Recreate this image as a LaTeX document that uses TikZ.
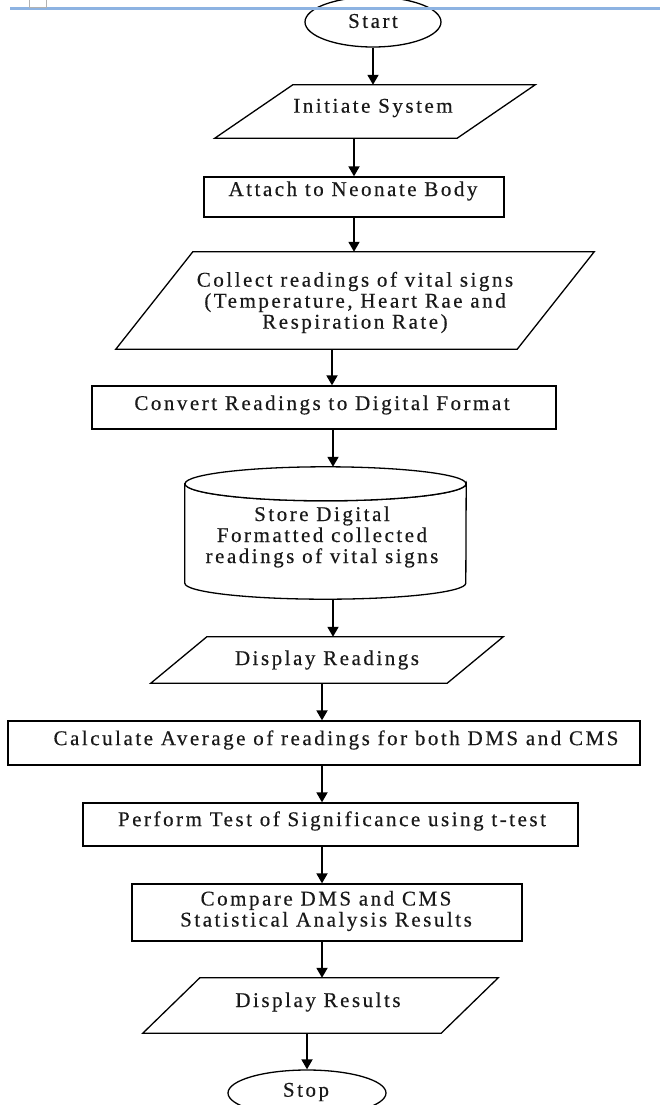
\documentclass[tikz,border=0pt]{standalone}
\usepackage{fontspec}
\setmainfont{Liberation Serif}[LetterSpace=12,FakeBold=0.4]
\usetikzlibrary{arrows.meta,shapes.geometric}
\definecolor{barblue}{RGB}{141,179,226}
\begin{document}
\begin{tikzpicture}[x=1pt,y=-1pt,
  shp/.style={draw=black, line width=1.3pt, fill=white},
  box/.style={shp, rectangle, inner sep=0pt},
  ell/.style={shp, ellipse, inner sep=0pt},
  ghost/.style={rectangle, draw=none, inner sep=0pt},
  txt/.style={inner sep=0pt, align=center, text=black!90, font=\fontsize{21}{21}\selectfont},
  arr/.style={line width=1.8pt, -{Triangle[width=11pt,length=10pt]}}]
\useasboundingbox (0,0) rectangle (660,1105);
\clip (0,0) rectangle (660,1105);
\fill[white] (0,0) rectangle (660,1105);

% Start
\node[ell, minimum width=136pt, minimum height=50pt] (start) at (373,22) {};
\node[txt] (tstart) at (373,21) {Start};
% top bar
\draw[barblue, line width=3pt] (10,9) -- (660,9);
\draw[gray!60, line width=1pt] (29,-1) -- (29,7.5) -- (46,7.5) -- (46,-1);

% Initiate System
\node[ghost, minimum width=320pt, minimum height=53pt] (init) at (375,111.5) {};
\draw[shp] (init.south west) -- ([xshift=78pt]init.north west) -- (init.north east) -- ([xshift=-78pt]init.south east) -- cycle;
\node[txt] (tinit) at (373,108) {Initiate System};

% Attach
\node[box, minimum width=300pt, minimum height=40pt] (att) at (354,197) {};
\node[txt] (tatt) at (353,191) {Attach to Neonate Body};

% Collect
\node[ghost, minimum width=478pt, minimum height=97pt] (col) at (355,300.5) {};
\draw[shp] (col.south west) -- ([xshift=77pt]col.north west) -- (col.north east) -- ([xshift=-77pt]col.south east) -- cycle;
\node[txt] (tcol) at (355,302.5) {Collect readings of vital signs\\(Temperature, Heart Rae and\\Respiration Rate)};

% Convert
\node[box, minimum width=464pt, minimum height=43pt] (conv) at (324,407.5) {};
\node[txt] (tconv) at (322,405) {Convert Readings to Digital Format};

% Store (cylinder)
\node[ghost, minimum width=281pt, minimum height=132pt] (store) at (325.5,533) {};
\draw[shp] ([yshift=-17pt]store.north west) -- ([yshift=16pt]store.south west)
  arc[start angle=180, end angle=360, x radius=140.5pt, y radius=16pt]
  -- ([yshift=-17pt]store.north east)
  arc[start angle=0, end angle=-180, x radius=140.5pt, y radius=17pt] -- cycle;
\draw[shp] ([yshift=-17pt]store.north) ellipse[x radius=140.5pt, y radius=17pt];
\node[txt] (tstore) at (322,537) {Store Digital\\Formatted collected\\readings of vital signs};

% Display Readings
\node[ghost, minimum width=352pt, minimum height=46pt] (dr) at (327,660) {};
\draw[shp] (dr.south west) -- ([xshift=56pt]dr.north west) -- (dr.north east) -- ([xshift=-56pt]dr.south east) -- cycle;
\node[txt] (tdr) at (327,660) {Display Readings};

% Calculate
\node[box, minimum width=632pt, minimum height=44pt] (calc) at (324,743) {};
\node[txt] (tcalc) at (336,740) {Calculate Average of readings for both DMS and CMS};

% Perform
\node[box, minimum width=495pt, minimum height=43pt] (perf) at (330.5,824.5) {};
\node[txt] (tperf) at (332,821) {Perform Test of Significance using t-test};

% Compare
\node[box, minimum width=390pt, minimum height=57pt] (comp) at (327,912.5) {};
\node[txt] (tcomp) at (326,911) {Compare DMS and CMS\\Statistical Analysis Results};

% Display Results
\node[ghost, minimum width=355pt, minimum height=55pt] (dr2) at (320.5,1005.5) {};
\draw[shp] (dr2.south west) -- ([xshift=57pt]dr2.north west) -- (dr2.north east) -- ([xshift=-57pt]dr2.south east) -- cycle;
\node[txt] (tdr2) at (318,1002) {Display Results};

% Stop
\node[ell, minimum width=158pt, minimum height=46pt] (stop) at (307,1093) {};
\node[txt] (tstop) at (306,1092) {Stop};

% connectors
\draw[arr] (start.south) -- (start.south |- init.north);
\draw[arr] (att.north |- init.south) -- (att.north);
\draw[arr] (att.south) -- (att.south |- col.north);
\draw[arr] ([xshift=8pt]conv.north |- col.south) -- ([xshift=8pt]conv.north);
\draw[arr] ([xshift=7.5pt]store.north |- conv.south) -- ([xshift=7.5pt]store.north);
\draw[arr] ([xshift=6pt]dr.north |- store.south) -- ([xshift=6pt]dr.north);
\draw[arr] ([xshift=-2pt]calc.north |- dr.south) -- ([xshift=-2pt]calc.north);
\draw[arr] ([xshift=-2pt]calc.south) -- ([xshift=-2pt]calc.south |- perf.north);
\draw[arr] ([xshift=-5pt]comp.north |- perf.south) -- ([xshift=-5pt]comp.north);
\draw[arr] ([xshift=-5pt]comp.south) -- ([xshift=-5pt]comp.south |- dr2.north);
\draw[arr] (stop.north |- dr2.south) -- (stop.north);
\end{tikzpicture}
\end{document}
